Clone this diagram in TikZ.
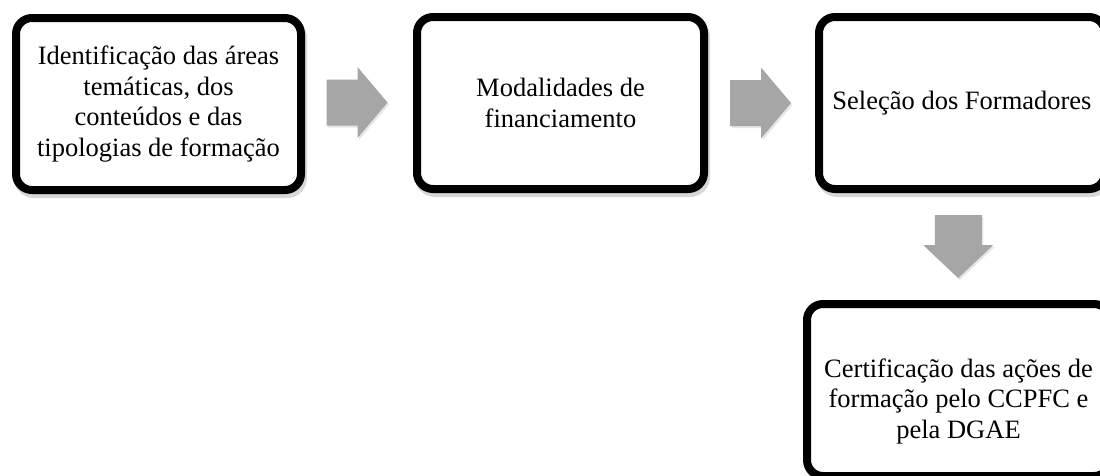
\documentclass[tikz,border=0pt]{standalone}
\usepackage{fontspec}
\setmainfont{Liberation Serif}
\usetikzlibrary{shadows,calc}
\newcommand{\boxfont}{\fontsize{26.5}{30.4}\selectfont}
\begin{document}
\begin{tikzpicture}[x=1pt,y=-1pt,
  shadowbox/.style={drop shadow={shadow xshift=2pt, shadow yshift=-4pt, fill=black!45, draw=black!45, line width=8pt, opacity=0.35}},
  box/.style={draw=black, line width=8pt, rounded corners=16pt, fill=white, minimum height=172pt, align=center, inner sep=0pt, font=\boxfont, shadowbox},
  arr/.style={fill=black!35, draw=none, drop shadow={shadow xshift=1.5pt, shadow yshift=-2pt, fill=black!50, opacity=0.2}}]
\useasboundingbox (0,0) rectangle (1100,475);
\clip (0,0) rectangle (1100,475);
\node[box, minimum width=285pt] (b1) at (158.5,104) {Identificação das áreas\\temáticas, dos\\conteúdos e das\\tipologias de formação};
\node[box, minimum width=287pt] (b2) at (560.5,103) {Modalidades de\\financiamento};
\node[box, minimum width=286pt] (b3) at (962,103) {Seleção dos Formadores};
\node[box, minimum width=303pt] (b4) at (958.5,390) {\rule{0pt}{41pt}Certificação das ações de\\formação pelo CCPFC e\\pela DGAE};
\coordinate (a1) at ($(b1.east)!0.5!(b2.west)+(-2,-1)$);
\coordinate (a2) at ($(b2.east)!0.5!(b3.west)+(-1,0)$);
\coordinate (a3) at ($(b3.south)!0.5!(b4.north)+(-2,0)$);
\fill[arr] ($(a1)+(-30.5,-23)$) -- ($(a1)+(0.5,-23)$) -- ($(a1)+(0.5,-35.5)$) -- ($(a1)+(30.5,0)$) -- ($(a1)+(0.5,35.5)$) -- ($(a1)+(0.5,23)$) -- ($(a1)+(-30.5,23)$) -- cycle;
\fill[arr] ($(a2)+(-30.5,-23)$) -- ($(a2)+(0.5,-23)$) -- ($(a2)+(0.5,-35.5)$) -- ($(a2)+(30.5,0)$) -- ($(a2)+(0.5,35.5)$) -- ($(a2)+(0.5,23)$) -- ($(a2)+(-30.5,23)$) -- cycle;
\fill[arr] ($(a3)+(-23.5,-31.5)$) -- ($(a3)+(23.5,-31.5)$) -- ($(a3)+(23.5,-1.5)$) -- ($(a3)+(35,-1.5)$) -- ($(a3)+(0,31.5)$) -- ($(a3)+(-35,-1.5)$) -- ($(a3)+(-23.5,-1.5)$) -- cycle;
\end{tikzpicture}
\end{document}
